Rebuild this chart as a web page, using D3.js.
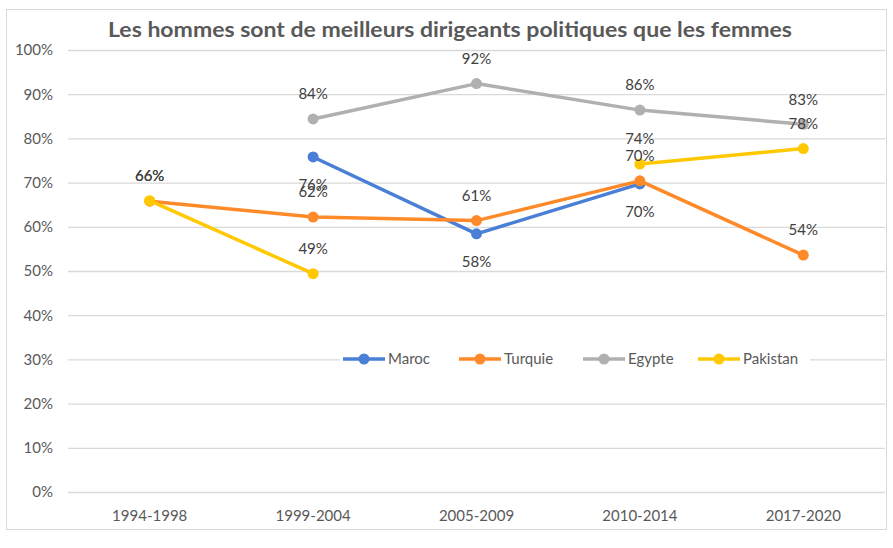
<!DOCTYPE html>
<html>
<head>
<meta charset="utf-8">
<script src="https://cdn.jsdelivr.net/npm/d3@7"></script>
<style>
  body { margin: 0; background: #fff; }
  svg { font-family: Lato, "Open Sans", sans-serif; }
</style>
</head>
<body>
<div id="chart"></div>
<script>
// Chart data
const categories = ['1994-1998', '1999-2004', '2005-2009', '2010-2014', '2017-2020'];
const seriesNames = ['Maroc', 'Turquie', 'Egypte', 'Pakistan'];
const maroc    = [null, 0.758, 0.584, 0.697, null];
const turquie  = [0.658, 0.622, 0.614, 0.704, 0.536];
const egypte   = [null, 0.844, 0.924, 0.864, 0.832];
const pakistan = [0.659, 0.494, null, 0.742, 0.777];
const yTicks = [0, 0.1, 0.2, 0.3, 0.4, 0.5, 0.6, 0.7, 0.8, 0.9, 1.0];
const title = 'Les hommes sont de meilleurs dirigeants politiques que les femmes';

const seriesValues = [maroc, turquie, egypte, pakistan];
const colors = ['#4A7FD6', '#FF8A2A', '#B0B0B0', '#FFC800'];
// Maroc labels sit below the points, the others above
const labelBelow = [true, false, false, false];

const width = 893, height = 548;
const margin = { left: 68, right: 8, top: 50, bottom: 56 };

const svg = d3.select('#chart')
    .append('svg')
    .attr('width', width)
    .attr('height', height);

// Chart area border
svg.append('rect')
    .attr('x', 6.5).attr('y', 9.5)
    .attr('width', 880).attr('height', 520)
    .attr('fill', '#fff')
    .attr('stroke', '#d9d9d9');

const x = d3.scaleBand()
    .domain(categories)
    .range([margin.left, width - margin.right]);

const y = d3.scaleLinear()
    .domain([0, 1])
    .range([height - margin.bottom, margin.top]);

// Gridlines + y labels
const yAxis = svg.append('g')
    .attr('transform', `translate(${margin.left},0)`)
    .call(d3.axisLeft(y)
        .tickValues(yTicks)
        .tickSize(-(width - margin.left - margin.right))
        .tickPadding(15)
        .tickFormat(d3.format('.0%')));
yAxis.select('.domain').remove();
yAxis.selectAll('line').attr('stroke', '#d9d9d9').attr('stroke-width', 1.3);
yAxis.selectAll('text')
    .attr('fill', '#595959')
    .attr('font-size', 15)
    .attr('font-family', 'Lato, sans-serif');

// X labels
const xAxis = svg.append('g')
    .attr('transform', `translate(0,${height - margin.bottom})`)
    .call(d3.axisBottom(x).tickSize(0).tickPadding(18));
xAxis.select('.domain').remove();
xAxis.selectAll('text')
    .attr('fill', '#595959')
    .attr('font-size', 15)
    .attr('font-family', 'Lato, sans-serif');

// Title
svg.append('text')
    .attr('x', 450)
    .attr('y', 37)
    .attr('text-anchor', 'middle')
    .attr('font-size', 21)
    .attr('font-weight', 'bold')
    .attr('fill', '#595959')
    .attr('textLength', 684)
    .attr('lengthAdjust', 'spacingAndGlyphs')
    .text(title);

const cx = c => x(c) + x.bandwidth() / 2;

const line = d3.line()
    .defined(d => d.v !== null)
    .x(d => cx(d.c))
    .y(d => y(d.v));

const series = seriesNames.map((name, i) => ({
    name,
    color: colors[i],
    below: labelBelow[i],
    points: categories.map((c, j) => ({ c, v: seriesValues[i][j] }))
}));

const lines = svg.append('g');
series.forEach(s => {
    lines.append('path')
        .datum(s.points)
        .attr('fill', 'none')
        .attr('stroke', s.color)
        .attr('stroke-width', 3.5)
        .attr('stroke-linejoin', 'round')
        .attr('d', line);

    lines.selectAll(null)
        .data(s.points.filter(p => p.v !== null))
        .enter()
        .append('circle')
        .attr('cx', d => cx(d.c))
        .attr('cy', d => y(d.v))
        .attr('r', 5.5)
        .attr('fill', s.color);
});

// Data labels
const labels = svg.append('g');
series.forEach(s => {
    labels.selectAll(null)
        .data(s.points.filter(p => p.v !== null))
        .enter()
        .append('text')
        .attr('x', d => cx(d.c))
        .attr('y', d => y(d.v) + (s.below ? 28 : -25))
        .attr('dy', '0.35em')
        .attr('text-anchor', 'middle')
        .attr('font-size', 15)
        .attr('fill', '#404040')
        .text(d => d3.format('.0%')(d.v));
});

// Legend
const legend = svg.append('g').attr('transform', 'translate(343,359)');
const legendX = [0, 116, 240, 355];
legend.append('rect')
    .attr('x', -3).attr('y', -10)
    .attr('width', 470).attr('height', 20)
    .attr('fill', '#fff');
series.forEach((s, i) => {
    const g = legend.append('g').attr('transform', `translate(${legendX[i]},0)`);
    g.append('line')
        .attr('x1', 0).attr('x2', 42)
        .attr('stroke', s.color)
        .attr('stroke-width', 3.5);
    g.append('circle')
        .attr('cx', 21).attr('r', 5.5)
        .attr('fill', s.color);
    g.append('text')
        .attr('x', 45)
        .attr('dy', '0.35em')
        .attr('font-size', 15)
        .attr('fill', '#595959')
        .text(s.name);
});
</script>
</body>
</html>
